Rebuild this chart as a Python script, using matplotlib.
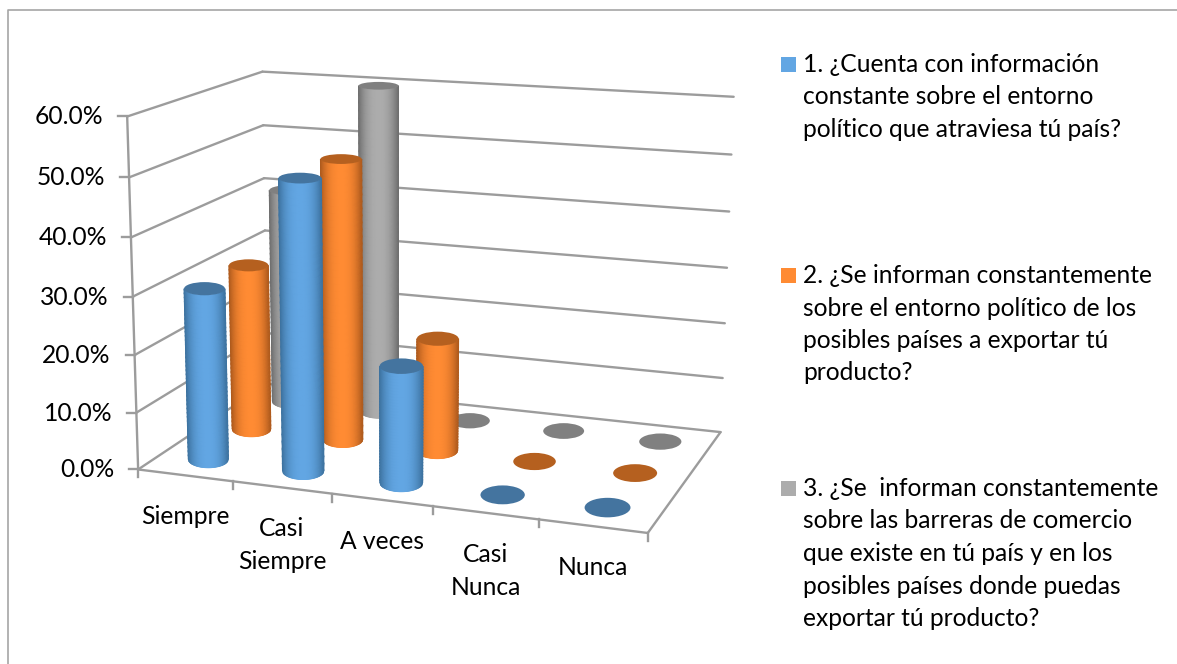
import numpy as np
import matplotlib
matplotlib.use("Agg")
import matplotlib.pyplot as plt
from matplotlib.colors import LinearSegmentedColormap
from matplotlib.patches import Ellipse, Rectangle

plt.rcParams['font.family'] = ['Lato', 'DejaVu Sans']

categories = ["Siempre", "Casi\nSiempre", "A veces", "Casi\nNunca", "Nunca"]
pregunta_1 = [30.0, 50.0, 20.0, 0.0, 0.0]
pregunta_2 = [30.0, 50.0, 20.0, 0.0, 0.0]
pregunta_3 = [40.0, 60.0, 0.0, 0.0, 0.0]
y_ticks = [0, 10, 20, 30, 40, 50, 60]
legend_1 = ["1. ¿Cuenta con información", "constante sobre el entorno", "político que atraviesa tú país?"]
legend_2 = ["2. ¿Se informan constantemente", "sobre el entorno político de los", "posibles países a exportar tú", "producto?"]
legend_3 = ["3. ¿Se  informan constantemente", "sobre las barreras de comercio", "que existe en tú país y en los",
            "posibles países donde puedas", "exportar tú producto?"]

# (center colour, edge colour, cap colour) for each series
colors_1 = ("#62A6E3", "#3D729F", "#44749F")
colors_2 = ("#FF8B33", "#AD5A1D", "#B5601F")
colors_3 = ("#ACACAC", "#6E6E6E", "#808080")
GRID = "#9C9C9C"
FS = 17.7

# box corners (category, series, value) -> pixel, used to fit the perspective camera
box = np.array([[0, 0, 0], [0, 0, 60], [0, 3, 60], [0, 3, 0], [5, 3, 60], [5, 3, 0], [5, 0, 0]], float)
pix = np.array([[140, 468], [125, 117], [265, 71], [265, 385], [733, 97], [721, 431], [648, 534]], float)


def fit_camera(world, image):
    rows = []
    for (x, y, z), (u, v) in zip(world, image):
        rows.append([x, y, z, 1, 0, 0, 0, 0, -u * x, -u * y, -u * z, -u])
        rows.append([0, 0, 0, 0, x, y, z, 1, -v * x, -v * y, -v * z, -v])
    return np.linalg.svd(np.array(rows))[2][-1].reshape(3, 4)


P = fit_camera(box, pix)


def project(x, y, z):
    h = P @ np.array([x, y, z, 1.0])
    return h[0] / h[2], h[1] / h[2]


def line3d(ax, a, b, lw=1.7):
    pa, pb = project(*a), project(*b)
    ax.plot([pa[0], pb[0]], [pa[1], pb[1]], color=GRID, lw=lw, solid_capstyle="round", zorder=1)


def ellipse_size(x, y, z):
    # half axes of the cylinder section, following the perspective
    rx = abs(project(x + 0.215, y, z)[0] - project(x - 0.215, y, z)[0]) / 2
    ry = abs(project(x, y + 0.27, z)[1] - project(x, y - 0.27, z)[1]) / 2
    return rx, ry


def cylinder(ax, x, y, value, colors):
    center, edge, cap = colors
    bx, by = project(x, y, 0)
    tx, ty = project(x, y, value)
    brx, bry = ellipse_size(x, y, 0)
    trx, try_ = ellipse_size(x, y, value)
    if value > 0:
        # evenly spaced columns, thin slivers at the sides make the edge wobble
        u = np.linspace(-1, 1, 45)
        arc = np.sqrt(1 - u ** 2)
        f = np.linspace(0, 1, 41)[:, None]
        X = (1 - f) * (bx + brx * u) + f * (tx + trx * u)
        Y = (1 - f) * (by + bry * arc) + f * (ty + try_ * arc)
        C = np.tile(np.abs(u) ** 2.5, (len(f), 1))
        cmap = LinearSegmentedColormap.from_list("cyl", [center, edge])
        ax.pcolormesh(X, Y, C, cmap=cmap, vmin=0, vmax=1, shading="gouraud", zorder=3)
    ax.add_patch(Ellipse((tx, ty), 2 * trx, 2 * try_, facecolor=cap, edgecolor="none", zorder=3))


fig = plt.figure(figsize=(11.77, 6.64), dpi=100)
ax = fig.add_axes([0, 0, 1, 1])
ax.set_xlim(0, 1177)
ax.set_ylim(664, 0)
ax.axis("off")

# chart frame
ax.plot([8, 8, 1177], [664, 10, 10], color="#A6A6A6", lw=1.2, zorder=1)

# walls and floor
for v in y_ticks:
    line3d(ax, (0, 0, v), (0, 3, v))
    line3d(ax, (0, 3, v), (5, 3, v))
    px, py = project(0, 0, v)
    ax.plot([px - 9, px], [py, py], color=GRID, lw=1.7, zorder=1)
    ax.text(px - 24, py + 8, f"{v:.1f}%", ha="right", va="baseline", fontsize=FS, color="black")
line3d(ax, (0, 0, 0), (0, 0, 60))
line3d(ax, (0, 0, 0), (5, 0, 0))
line3d(ax, (5, 0, 0), (5, 3, 0))
for i in range(len(categories) + 1):
    px, py = project(i, 0, 0)
    ax.plot([px, px], [py, py + 8], color=GRID, lw=1.7, zorder=1)

# back series first, so the front ones cover them
for j, (vals, cols) in enumerate([(pregunta_3, colors_3), (pregunta_2, colors_2), (pregunta_1, colors_1)]):
    for i, v in enumerate(vals):
        cylinder(ax, i + 0.5, 2.5 - j, v, cols)

for i, name in enumerate(categories):
    px, py = project(i + 0.5, 0, 0)
    for k, part in enumerate(name.split("\n")):
        ax.text(px, py + 49 + k * 33, part, ha="center", va="baseline", fontsize=FS, color="black")

# legend
legend_rows = [(legend_1, colors_1, 64), (legend_2, colors_2, 275), (legend_3, colors_3, 488)]
for lines, cols, y0 in legend_rows:
    ax.add_patch(Rectangle((781, y0 - 7), 15, 15, facecolor=cols[0], edgecolor="none", zorder=3))
    for k, txt in enumerate(lines):
        ax.text(803, y0 + 8 + k * 32.5, txt, ha="left", va="baseline", fontsize=FS, color="black")

fig.savefig("out.png", dpi=100)
